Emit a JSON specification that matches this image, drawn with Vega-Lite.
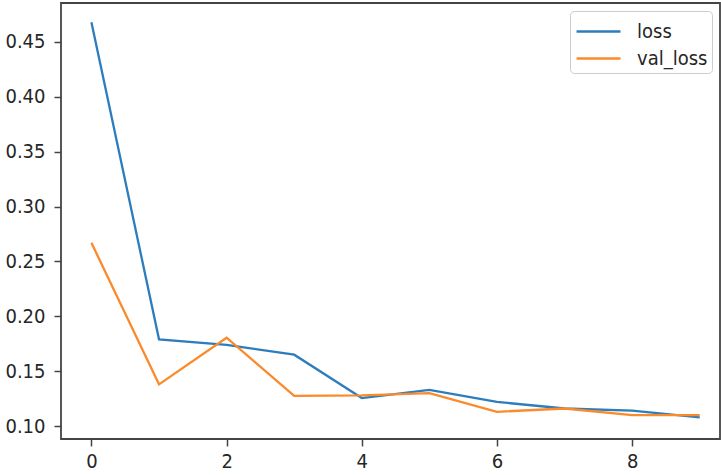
{
  "$schema": "https://vega.github.io/schema/vega-lite/v6.json",
  "autosize": {"type": "none"},
  "width": 659,
  "height": 436,
  "padding": {"left": 61, "top": 3, "right": 1, "bottom": 36},
  "background": "white",
  "config": {
    "view": {"stroke": "#444444", "strokeWidth": 1.8},
    "font": "DejaVu Sans Condensed, DejaVu Sans",
    "axis": {
      "grid": false,
      "domain": false,
      "tickColor": "#444444",
      "tickWidth": 1.5,
      "tickSize": 7,
      "labelFont": "DejaVu Sans Condensed, DejaVu Sans",
      "labelFontSize": 20,
      "labelColor": "#262626",
      "title": null
    }
  },
  "data": {
    "values": [
      {"epoch": 0, "series": "loss", "value": 0.468},
      {"epoch": 1, "series": "loss", "value": 0.179},
      {"epoch": 2, "series": "loss", "value": 0.174},
      {"epoch": 3, "series": "loss", "value": 0.165},
      {"epoch": 4, "series": "loss", "value": 0.1255},
      {"epoch": 5, "series": "loss", "value": 0.133},
      {"epoch": 6, "series": "loss", "value": 0.122},
      {"epoch": 7, "series": "loss", "value": 0.116},
      {"epoch": 8, "series": "loss", "value": 0.114},
      {"epoch": 9, "series": "loss", "value": 0.108},
      {"epoch": 0, "series": "val_loss", "value": 0.267},
      {"epoch": 1, "series": "val_loss", "value": 0.138},
      {"epoch": 2, "series": "val_loss", "value": 0.1805},
      {"epoch": 3, "series": "val_loss", "value": 0.1275},
      {"epoch": 4, "series": "val_loss", "value": 0.128},
      {"epoch": 5, "series": "val_loss", "value": 0.130},
      {"epoch": 6, "series": "val_loss", "value": 0.113},
      {"epoch": 7, "series": "val_loss", "value": 0.116},
      {"epoch": 8, "series": "val_loss", "value": 0.110},
      {"epoch": 9, "series": "val_loss", "value": 0.110}
    ]
  },
  "mark": {"type": "line", "strokeWidth": 2.3, "clip": true},
  "encoding": {
    "x": {
      "field": "epoch",
      "type": "quantitative",
      "scale": {"domain": [-0.45, 9.3], "nice": false, "zero": false},
      "axis": {"values": [0, 2, 4, 6, 8], "labelPadding": 5}
    },
    "y": {
      "field": "value",
      "type": "quantitative",
      "scale": {"domain": [0.0882, 0.4855], "nice": false, "zero": false},
      "axis": {"values": [0.1, 0.15, 0.2, 0.25, 0.3, 0.35, 0.4, 0.45], "format": ".2f", "labelPadding": 9}
    },
    "color": {
      "field": "series",
      "type": "nominal",
      "scale": {"domain": ["loss", "val_loss"], "range": ["#2d7dbd", "#fa8a2a"]},
      "legend": {
        "title": null,
        "orient": "none",
        "legendX": 509,
        "legendY": 8,
        "padding": 4,
        "strokeColor": "#cccccc",
        "fillColor": "white",
        "cornerRadius": 4,
        "symbolType": "M-0.93,0H2",
        "symbolSize": 900,
        "symbolStrokeWidth": 2.5,
        "labelFont": "DejaVu Sans Condensed, DejaVu Sans",
        "labelFontSize": 20,
        "labelColor": "#262626",
        "labelOffset": 30,
        "rowPadding": 0
      }
    }
  }
}
